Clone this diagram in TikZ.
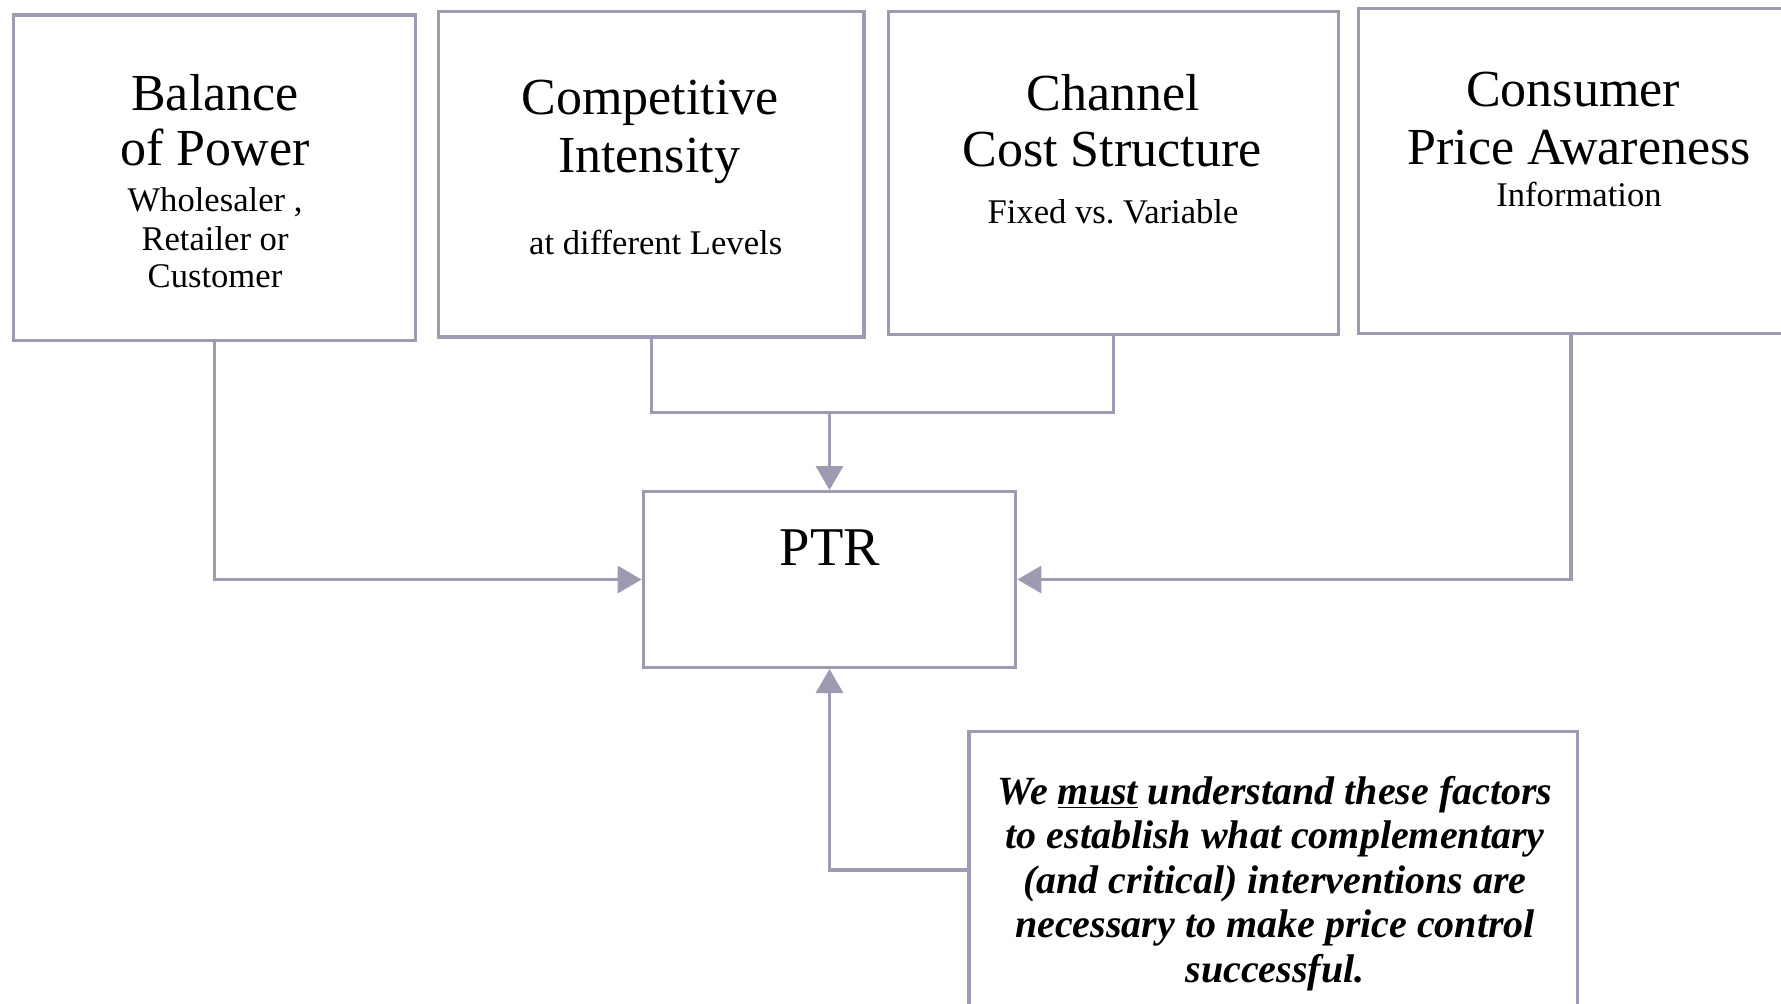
\documentclass[tikz,border=0pt]{standalone}
\usepackage{fontspec}
\setmainfont{Liberation Serif}
\usetikzlibrary{arrows.meta}
\definecolor{linec}{RGB}{160,153,178}
\frenchspacing
\begin{document}
\begin{tikzpicture}[x=0.5pt,y=-0.5pt,
  pbox/.style={draw=linec,line width=1.7pt,rectangle,inner sep=0pt},
  conn/.style={draw=linec,line width=1.7pt},
  arr/.style={draw=linec,line width=1.7pt,-{Triangle[length=12pt,width=13.5pt]}},
  big/.style={font=\fontsize{26}{28}\selectfont,anchor=base,inner sep=0pt},
  small/.style={font=\fontsize{17.3}{19}\selectfont,anchor=base,inner sep=0pt},
  ptrtxt/.style={font=\fontsize{27.3}{29}\selectfont,anchor=base,inner sep=0pt},
  notetxt/.style={font=\fontsize{20}{22}\selectfont\bfseries\itshape,anchor=base,inner sep=0pt}]
\useasboundingbox (0,0) rectangle (1781,1003);
\fill[white] (0,0) rectangle (1781,1003);

% boxes
\node[pbox,minimum width=201.05pt,minimum height=162.95pt] (b1) at (214.65,177.75) {};
\node[pbox,minimum width=212.75pt,minimum height=162.75pt] (b2) at (651.25,174.25) {};
\node[pbox,minimum width=224.9pt,minimum height=161.5pt] (b3) at (1113.4,173) {};
\node[pbox,minimum width=212.5pt,minimum height=162.5pt] (b4) at (1570.8,170.8) {};
\node[pbox,minimum width=186.2pt,minimum height=87.8pt] (ptr) at (829.5,579.5) {};
\node[pbox,minimum width=304.3pt,minimum height=154.2pt] (note) at (1273.3,885.8) {};

% texts
\node[big] (t1a) at (215,110) {Balance};
\node[big] (t1b) at (215,165) {of Power};
\node[small] (t1c) at (215,211.7) {Wholesaler ,};
\node[small] (t1d) at (215,250) {Retailer or};
\node[small] (t1e) at (215,287) {Customer};

\node[big] (t2a) at (650,114) {Competitive};
\node[big] (t2b) at (649,172.7) {Intensity};
\node[small] (t2c) at (655.7,254) {at different Levels};

\node[big] (t3a) at (1113.3,110) {Channel};
\node[big] (t3b) at (1112,166.7) {Cost Structure};
\node[small] (t3c) at (1113,223.3) {Fixed vs. Variable};

\node[big] (t4a) at (1573,106) {Consumer};
\node[big] (t4b) at (1579,164) {Price Awareness};
\node[small] (t4c) at (1579,206.7) {Information};

\node[ptrtxt] (tp) at (830,565) {PTR};

\node[notetxt] (n1) at (1275,804) {We \underline{must} understand these factors};
\node[notetxt] (n2) at (1275,848.5) {to establish what complementary};
\node[notetxt] (n3) at (1275,893) {(and critical) interventions are};
\node[notetxt] (n4) at (1275,937.5) {necessary to make price control};
\node[notetxt] (n5) at (1275,982) {successful.};

% connectors
\coordinate (j) at (829.5,412.3);
\coordinate (ny) at (0,870);
\draw[arr] (b1.south) |- (ptr.west);
\draw[conn] (b2.south) |- (j) -| (b3.south);
\draw[arr] (j) -- (ptr.north);
\draw[arr] (b4.south) |- (ptr.east);
\draw[arr] (note.west |- ny) -| (ptr.south);
\end{tikzpicture}
\end{document}
